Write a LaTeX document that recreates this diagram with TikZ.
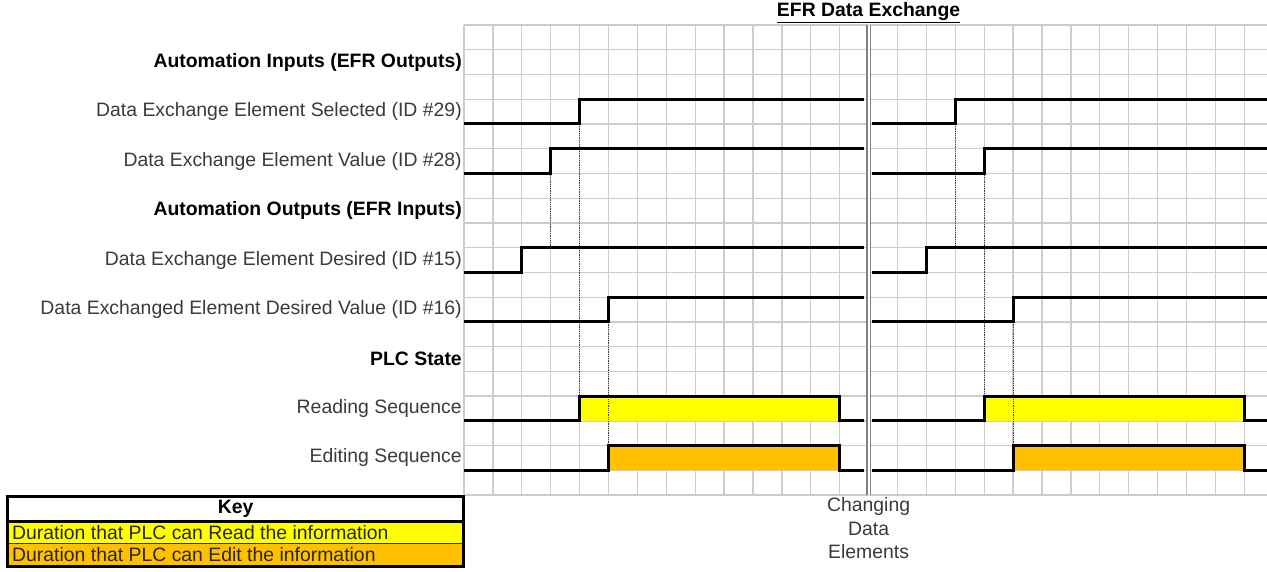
\documentclass[tikz,border=0pt]{standalone}
\usepackage{fontspec}
\setmainfont{Liberation Sans}
\definecolor{gridgray}{HTML}{CCCCCC}
\definecolor{labelgray}{HTML}{3A3A3A}
\definecolor{splitgray}{HTML}{808080}
\definecolor{readyellow}{HTML}{FFFF00}
\definecolor{editorange}{HTML}{FFC000}

\begin{document}
\begin{tikzpicture}[x=28.9pt,y=-24.74pt,
  gridline/.style={draw=gridgray,line width=1.3pt},
  splitline/.style={draw=splitgray,line width=1.4pt,double=white,double distance=2pt},
  signal/.style={draw=black,line width=3pt},
  guide/.style={draw=black!75,densely dotted,line width=0.8pt},
  siglabel/.style={anchor=east,inner sep=0pt,text=labelgray,font=\fontsize{19.4}{23}\selectfont},
  grouplabel/.style={anchor=east,inner sep=0pt,text=black,font=\fontsize{19.4}{23}\selectfont\bfseries},
  keytext/.style={anchor=west,inner sep=0pt,text=black!85,font=\fontsize{19.4}{23}\selectfont}]
\useasboundingbox (-16.055,-1.0105) rectangle (27.785,22.07);
% Grid
\foreach \k in {0,...,27}
    \draw[gridline] (\k,0) -- (\k,19);
\foreach \r in {0,...,19}
    \draw[gridline] (0,\r) -- (27.785,\r);
% Fills
\fill[readyellow] (4,15) rectangle (13,16);
\fill[readyellow] (18,15) rectangle (27,16);
\fill[editorange] (5,17) rectangle (13,18);
\fill[editorange] (19,17) rectangle (27,18);
% Split
\draw[splitline] (14,0) -- (14,19);
% Guides
\foreach \k/\t/\u in {3/6/9,4/4/15,5/12/17,17/4/9,18/6/15,19/12/17}
    \draw[guide] (\k,\t) -- (\k,\u);
% Signals
\foreach \h/\a/\b in {3/4/17,5/3/18,9/2/16,11/5/19} {
    \draw[signal] (0,\h+1) -- (\a,\h+1) -- (\a,\h) -- (13.85,\h);
    \draw[signal] (14.12,\h+1) -- (\b,\h+1) -- (\b,\h) -- (27.8,\h);
}
\foreach \h/\a/\b in {15/4/18,17/5/19} {
    \draw[signal] (0,\h+1) -- (\a,\h+1) -- (\a,\h) -- (13,\h) -- (13,\h+1) -- (13.85,\h+1);
    \draw[signal] (14.12,\h+1) -- (\b,\h+1) -- (\b,\h) -- (27,\h) -- (27,\h+1) -- (27.8,\h+1);
}
% Labels
\node[grouplabel] (inputs) at (-0.07,1.5) {Automation Inputs (EFR Outputs)};
\node[siglabel] (sel) at (-0.07,3.5) {Data Exchange Element Selected (ID \#29)};
\node[siglabel] (val) at (-0.07,5.5) {Data Exchange Element Value (ID \#28)};
\node[grouplabel] (outputs) at (-0.07,7.5) {Automation Outputs (EFR Inputs)};
\node[siglabel] (des) at (-0.07,9.5) {Data Exchange Element Desired (ID \#15)};
\node[siglabel] (desval) at (-0.07,11.5) {Data Exchanged Element Desired Value (ID \#16)};
\node[grouplabel] (plc) at (-0.07,13.5) {PLC State};
\node[siglabel] (read) at (-0.07,15.5) {Reading Sequence};
\node[siglabel] (edit) at (-0.07,17.5) {Editing Sequence};
% Title
\node[inner sep=0pt,font=\fontsize{19.4}{23}\selectfont\bfseries] (title) at (14,-0.49) {\underline{EFR Data Exchange}};
\node[anchor=north,align=center,inner sep=0pt,text=labelgray,font=\fontsize{19.4}{23.5}\selectfont] (change) at (14,19.1) {Changing\\Data\\Elements};
% Key
\fill[white] (-15.81,19.05) rectangle (0,20.05);
\fill[readyellow] (-15.81,20.05) rectangle (0,20.97);
\fill[editorange] (-15.81,20.97) rectangle (0,21.88);
\draw[black!80,line width=0.8pt] (-15.81,20.97) -- (0,20.97);
\draw[line width=3pt] (-15.81,20.05) -- (0,20.05);
\draw[line width=3pt] (-15.81,19.05) rectangle (0,21.88);
\node[inner sep=0pt,font=\fontsize{19.4}{23}\selectfont\bfseries] (key) at (-7.9,19.55) {Key};
\node[keytext] (keyread) at (-15.64,20.51) {Duration that PLC can Read the information};
\node[keytext] (keyedit) at (-15.64,21.42) {Duration that PLC can Edit the information};
\end{tikzpicture}
\end{document}
